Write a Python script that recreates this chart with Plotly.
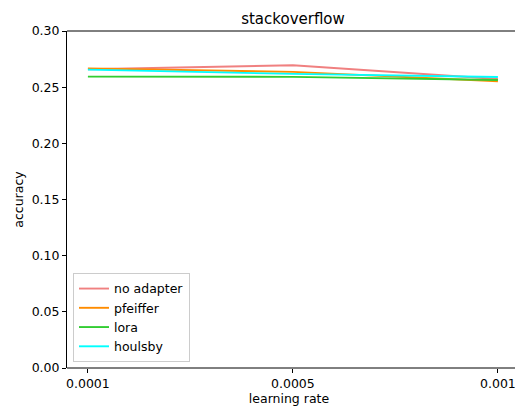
import plotly.graph_objects as go

learning_rates = ["0.0001", "0.0005", "0.001"]

no_adapter = [0.2660, 0.2695, 0.2573]
pfeiffer = [0.2667, 0.2636, 0.2553]
lora = [0.2594, 0.2592, 0.2564]
houlsby = [0.2656, 0.2618, 0.2590]

series_names = ["no adapter", "pfeiffer", "lora", "houlsby"]
series_values = [no_adapter, pfeiffer, lora, houlsby]
series_colors = ["#F08080", "#FF8C00", "#32CD32", "#00FFFF"]

y_ticks = [0.00, 0.05, 0.10, 0.15, 0.20, 0.25, 0.30]

font_family = "DejaVu Sans"
label_size = 12.5

WIDTH, HEIGHT = 515, 410
LEFT, RIGHT, TOP, BOTTOM = 67, 4, 31, 42
plot_w = WIDTH - LEFT - RIGHT
cat_px = 205  # pixel spacing between learning-rate categories
x_start = -0.102

fig = go.Figure()
for name, vals, color in zip(series_names, series_values, series_colors):
    fig.add_trace(go.Scatter(
        x=list(range(len(learning_rates))),
        y=vals,
        mode="lines",
        name=name,
        line=dict(color=color, width=1.9),
    ))

# top and bottom spines run on to the page edge (the right spine lies past it)
edge = 1 + RIGHT / plot_w
for yy in (0, 1):
    fig.add_shape(
        type="line", xref="paper", yref="paper",
        x0=0, x1=edge, y0=yy, y1=yy,
        line=dict(color="black", width=1),
    )

fig.update_layout(
    width=WIDTH,
    height=HEIGHT,
    autosize=False,
    margin=dict(l=LEFT, r=RIGHT, t=TOP, b=BOTTOM, autoexpand=False),
    paper_bgcolor="white",
    plot_bgcolor="white",
    font=dict(family=font_family, size=label_size, color="black"),
    title=dict(
        text="stackoverflow",
        font=dict(family=font_family, size=15, color="black"),
        x=293 / WIDTH,
        xanchor="center",
        y=1 - 19 / HEIGHT,
        yanchor="middle",
    ),
    legend=dict(
        x=6 / plot_w,
        y=0.018,
        xanchor="left",
        yanchor="bottom",
        bgcolor="rgba(255,255,255,0.8)",
        bordercolor="#cccccc",
        borderwidth=1,
        font=dict(family=font_family, size=label_size, color="black"),
        tracegroupgap=0,
        itemwidth=30,
    ),
    showlegend=True,
)

fig.update_xaxes(
    range=[x_start, x_start + plot_w / cat_px],
    automargin=False,
    tickmode="array",
    tickvals=list(range(len(learning_rates))),
    ticktext=learning_rates,
    ticks="outside",
    ticklen=4,
    tickcolor="black",
    ticklabeloverflow="allow",
    showline=False,
    showgrid=False,
    zeroline=False,
    title=dict(text="learning rate", font=dict(family=font_family, size=label_size), standoff=3),
)

fig.update_yaxes(
    range=[0, 0.30],
    automargin=False,
    tickmode="array",
    tickvals=y_ticks,
    ticktext=[f"{v:.2f}" for v in y_ticks],
    ticks="outside",
    ticklen=4,
    tickcolor="black",
    showline=True,
    linecolor="black",
    linewidth=1,
    showgrid=False,
    zeroline=False,
    title=dict(text="accuracy", font=dict(family=font_family, size=label_size), standoff=5),
)

fig.write_html("out.html", config={"displayModeBar": False, "responsive": False})
